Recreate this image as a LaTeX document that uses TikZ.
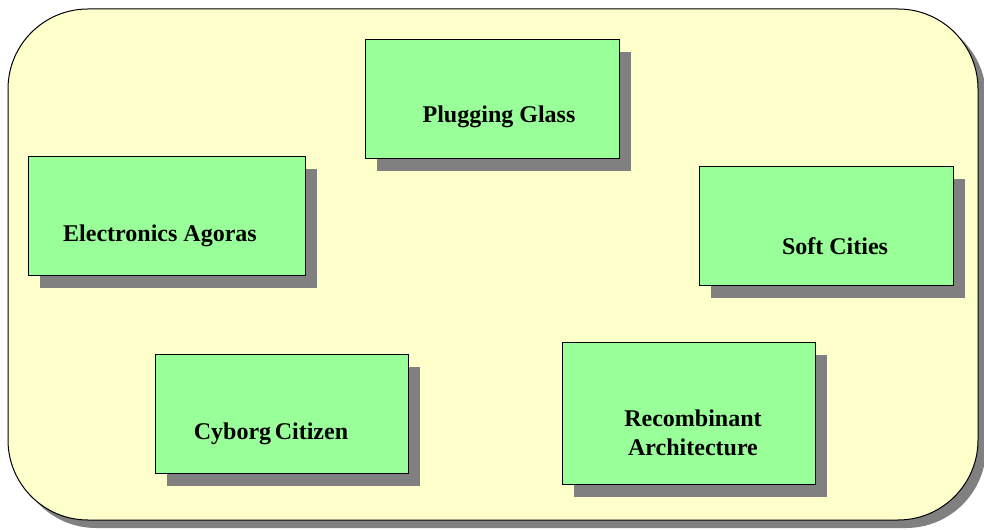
\documentclass[tikz,border=0pt]{standalone}
\usepackage{fontspec}
\setmainfont{Liberation Serif}
\usetikzlibrary{shadows}
\definecolor{paleyellow}{HTML}{FFFFCC}
\definecolor{palegreen}{HTML}{99FF99}
\definecolor{shadowgray}{HTML}{808080}
\tikzset{
	every node/.style = {font=\fontsize{18}{21}\selectfont\bfseries},
	board/.style = {draw=black, line width=0.75pt, fill=paleyellow, rectangle, rounded corners=60pt,
		inner sep=0pt, drop shadow={shadow xshift=6pt, shadow yshift=-6pt, fill=shadowgray, opacity=1}},
	topic/.style = {draw=black, line width=0.6pt, fill=palegreen, rectangle, inner sep=0pt,
		minimum height=89.25pt, drop shadow={shadow xshift=9pt, shadow yshift=-9.75pt, fill=shadowgray, opacity=1}},
	topiclabel/.style = {align=center, inner sep=0pt, anchor=base}
}

\begin{document}
\begin{tikzpicture}[x=0.75pt, y=-0.75pt]
		\useasboundingbox (0,0) rectangle (984,530);
		% background panel
		\node[board, minimum width=727.5pt, minimum height=383.25pt] (panel) at (493,264.5) {};
		% boxes
		\node[topic, minimum width=190.5pt] (glass) at (492,98.5) {};
		\node[topic, minimum width=207.75pt] (agoras) at (166.5,215.5) {};
		\node[topic, minimum width=190.5pt] (cities) at (826,225.5) {};
		\node[topic, minimum width=189.75pt] (cyborg) at (281.5,413.5) {};
		\node[topic, minimum width=189.75pt, minimum height=106.5pt] (recomb) at (688.5,413) {};
		% labels
		\node[topiclabel] (glasslbl) at (499,123) {Plugging Glass};
		\node[topiclabel] (agoraslbl) at (160,242) {Electronics Agoras};
		\node[topiclabel] (citieslbl) at (835,255) {Soft Cities};
		\node[topiclabel] (cyborglbl) at (271,439) {Cyborg\hspace{-0.1em} Citizen};
		\node[topiclabel] (recomblbl) at (693,455) {Recombinant\\Architecture};
	\end{tikzpicture}
\end{document}
